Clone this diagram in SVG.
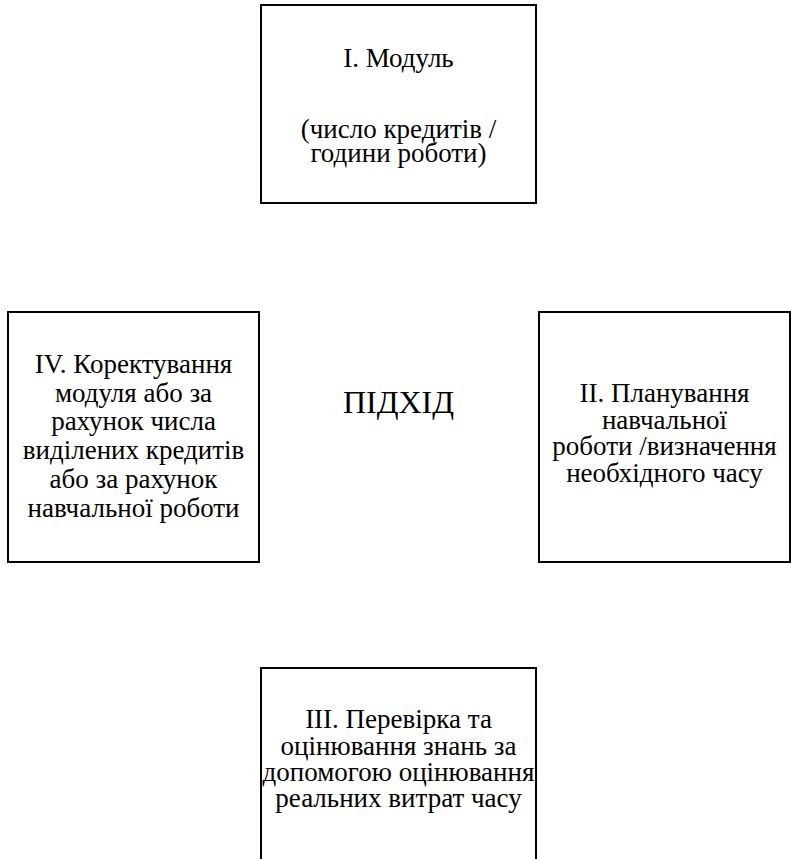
<svg xmlns="http://www.w3.org/2000/svg" width="791" height="859" viewBox="0 0 791 859">
<style>
.box{fill:#fff;stroke:#000;stroke-width:2}
text{font-family:"Liberation Serif","Times New Roman",serif;font-size:27px;fill:#000;text-anchor:middle}
.title{font-size:32px}
</style>
<rect width="791" height="859" fill="#fff"/>
<g id="connectors"/>
<g id="node-module">
<rect class="box" x="261" y="5" width="275" height="198"/>
<text x="398.5" y="67">I. Модуль</text>
<text x="398.5" y="138">(число кредитів /</text>
<text x="398.5" y="162">години роботи)</text>
</g>
<g id="node-correction">
<rect class="box" x="8" y="312" width="251" height="250"/>
<text x="133.5" y="373">IV. Коректування</text>
<text x="133.5" y="401.5">модуля або за</text>
<text x="133.5" y="430">рахунок числа</text>
<text x="133.5" y="459">виділених кредитів</text>
<text x="133.5" y="487.5">або за рахунок</text>
<text x="133.5" y="516.5">навчальної роботи</text>
</g>
<g id="node-center">
<text class="title" x="398.5" y="413">ПІДХІД</text>
</g>
<g id="node-planning">
<rect class="box" x="539" y="312" width="251" height="250"/>
<text x="664.5" y="402">II. Планування</text>
<text x="664.5" y="428.7">навчальної</text>
<text x="664.5" y="455.3">роботи /визначення</text>
<text x="664.5" y="482">необхідного часу</text>
</g>
<g id="node-check">
<rect class="box" x="261" y="668" width="275" height="210"/>
<text x="398.5" y="728">III. Перевірка та</text>
<text x="398.5" y="754.5">оцінювання знань за</text>
<text x="398.5" y="781">допомогою оцінювання</text>
<text x="398.5" y="807">реальних витрат часу</text>
</g>
</svg>
